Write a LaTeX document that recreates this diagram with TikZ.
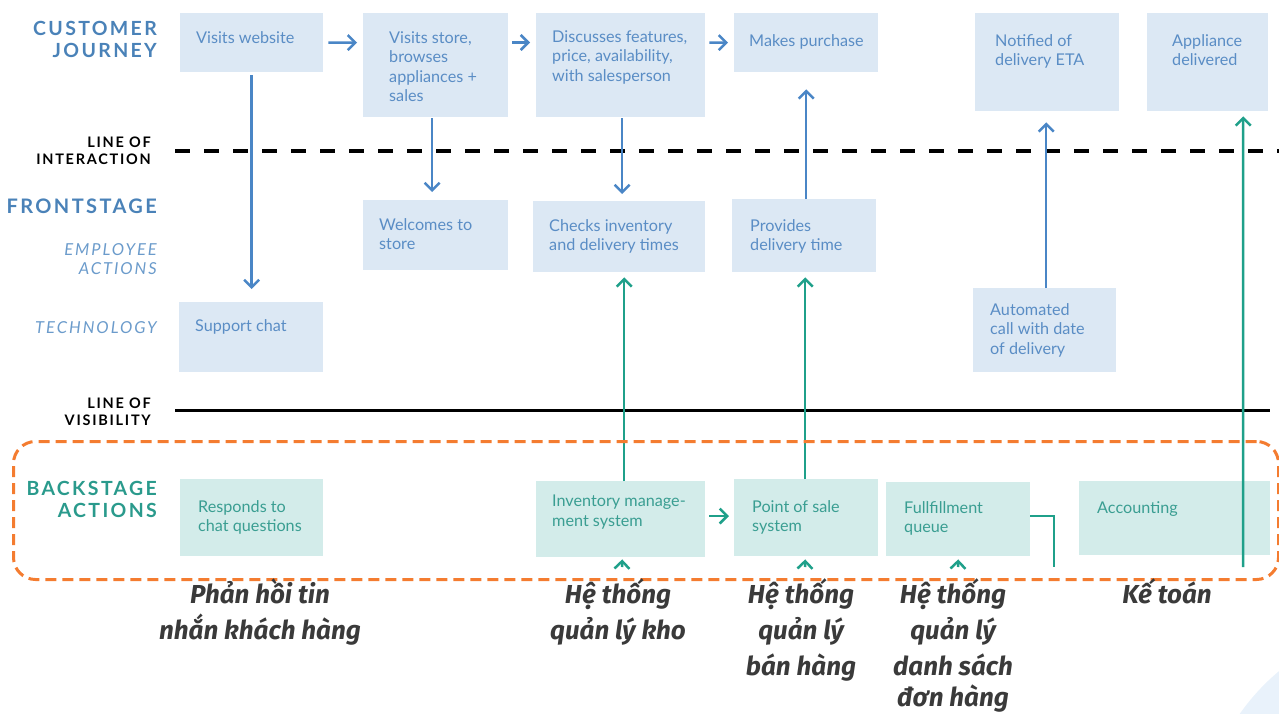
\documentclass[tikz,border=0pt]{standalone}
\usepackage{fontspec}
\setmainfont{Lato}
\newfontfamily\lbl[LetterSpace=12]{Lato}
\newfontfamily\viet{Fira Sans}
\usetikzlibrary{arrows.meta}
\definecolor{boxblue}{HTML}{DCE8F4}
\definecolor{boxteal}{HTML}{D3ECEA}
\definecolor{txtblue}{HTML}{5A8DC5}
\definecolor{txtteal}{HTML}{3A9E92}
\definecolor{arrblue}{HTML}{4A86C6}
\definecolor{arrteal}{HTML}{1FA08A}
\definecolor{hdblue}{HTML}{4A82B8}
\definecolor{itblue}{HTML}{6B9BCB}
\definecolor{hdteal}{HTML}{2A9A8C}
\definecolor{orng}{HTML}{F47C30}
\definecolor{vtgray}{HTML}{3A3A3A}
\definecolor{bgc}{HTML}{E9F2FB}
\begin{document}
\begin{tikzpicture}[x=1pt,y=-1pt,
  bbox/.style={fill=boxblue,draw=none,anchor=north west,inner sep=0pt},
  tbox/.style={fill=boxteal,draw=none,anchor=north west,inner sep=0pt},
  btxt/.style={anchor=north west,inner sep=0pt,align=left,text=txtblue,font=\fontsize{16.2}{19.5}\selectfont},
  ttxt/.style={anchor=north west,inner sep=0pt,align=left,text=txtteal,font=\fontsize{16.2}{19.5}\selectfont},
  barrow/.style={draw=arrblue,line width=2.5pt,-{Straight Barb[length=7.5pt,width=15pt,line width=2.5pt]}},
  garrow/.style={draw=arrteal,line width=2.5pt,-{Straight Barb[length=7.5pt,width=15pt,line width=2.5pt]}},
  gline/.style={draw=arrteal,line width=2.5pt},
  hdlbl/.style={anchor=east,inner sep=0pt,align=right},
  vt/.style={anchor=base,inner sep=0pt,text=vtgray,font=\viet\bfseries\itshape\fontsize{26}{36}\selectfont}
]
\useasboundingbox (0,0) rectangle (1279,713);
\clip (0,0) rectangle (1279,713);
\fill[bgc] (1420,840) circle (220);

% lines
\coordinate (loiL) at (175,151);
\coordinate (loiR) at (1279,151);
\coordinate (lovL) at (175,410);
\coordinate (lovR) at (1270,410);
\draw[line width=4pt,dash pattern=on 15pt off 14pt] (loiL) -- (loiR);
\draw[line width=3pt] (lovL) -- (lovR);

% top row boxes
\node[bbox,minimum width=143pt,minimum height=59pt] (vw) at (180,13) {};
\node[bbox,minimum width=145pt,minimum height=104pt] (vs) at (363,13) {};
\node[bbox,minimum width=169pt,minimum height=104pt] (dis) at (536,13) {};
\node[bbox,minimum width=144pt,minimum height=59pt] (mp) at (734,13) {};
\node[bbox,minimum width=144pt,minimum height=98pt] (nde) at (975,13) {};
\node[bbox,minimum width=121pt,minimum height=98pt] (ad) at (1147,13) {};
% middle
\node[bbox,minimum width=145pt,minimum height=70pt] (wel) at (363,200) {};
\node[bbox,minimum width=172pt,minimum height=71pt] (chk) at (533,201) {};
\node[bbox,minimum width=144pt,minimum height=73pt] (pdt) at (732,199) {};
\node[bbox,minimum width=144pt,minimum height=70pt] (sc) at (179,302) {};
\node[bbox,minimum width=143pt,minimum height=84pt] (ac) at (973,288) {};
% backstage
\node[tbox,minimum width=143pt,minimum height=77pt] (rcq) at (180,479) {};
\node[tbox,minimum width=169pt,minimum height=76pt] (ims) at (536,481) {};
\node[tbox,minimum width=144pt,minimum height=77pt] (pos) at (734,479) {};
\node[tbox,minimum width=144pt,minimum height=74pt] (fq) at (886,482) {};
\node[tbox,minimum width=191pt,minimum height=74pt] (acc) at (1079,481) {};

% box texts
\node[btxt] (vwt) at (196,31) {Visits website};
\node[btxt] (vst) at (389,31) {Visits store,\\browses\\appliances +\\sales};
\node[btxt] (dist) at (552,30) {Discusses features,\\price, availability,\\with salesperson};
\node[btxt] (mpt) at (749,34) {Makes purchase};
\node[btxt] (ndet) at (995,34) {Notified of\\delivery ETA};
\node[btxt] (adt) at (1172,34) {Appliance\\delivered};
\node[btxt] (welt) at (379,218) {Welcomes to\\store};
\node[btxt] (chkt) at (549,219) {Checks inventory\\and delivery times};
\node[btxt] (pdtt) at (750,219) {Provides\\delivery time};
\node[btxt] (sct) at (195,319) {Support chat};
\node[btxt] (act) at (990,303) {Automated\\call with date\\of delivery};
\node[ttxt] (rcqt) at (198,500) {Responds to\\chat questions};
\node[ttxt] (imst) at (552,495) {Inventory manage-\\ment system};
\node[ttxt] (post) at (752,500) {Point of sale\\system};
\node[ttxt] (fqt) at (904,501) {Fullfillment\\queue};
\node[ttxt] (acct) at (1097,501) {Accounting};

% blue arrows
\draw[barrow] ([shift={(5,0)}]vw.east) -- ([shift={(-6,29.5)}]vs.north west);
\draw[barrow] ([shift={(4,29.5)}]vs.north east) -- ([shift={(-6,29.5)}]dis.north west);
\draw[barrow] ([shift={(4,29.5)}]dis.north east) -- ([shift={(-6,0)}]mp.west);
\draw[barrow] ([shift={(0,3)}]vw.south) -- ([shift={(0.5,-13)}]sc.north);
\draw[barrow] ([shift={(-3.5,1)}]vs.south) -- ([shift={(-3.5,-8)}]wel.north);
\draw[barrow] ([shift={(1.5,1)}]dis.south) -- ([shift={(3,-7)}]chk.north);
\draw[barrow] ([shift={(2,0)}]pdt.north) -- ([shift={(0,17)}]mp.south);
\draw[barrow] ([shift={(1.5,0)}]ac.north) -- ([shift={(-1,11)}]nde.south);

% teal arrows
\coordinate (adbot) at (1243,567);
\coordinate (fqbot) at (1054,567);
\coordinate (imsb) at (622,567);
\coordinate (posb) at (805,567);
\coordinate (fqb) at (958,567);
\draw[garrow] ([shift={(3.5,0)}]ims.north) -- ([shift={(5,5)}]chk.south);
\draw[garrow] ([shift={(-1,0)}]pos.north) -- ([shift={(1,5)}]pdt.south);
\draw[garrow] ([shift={(4,35)}]ims.north east) -- ([shift={(-5,37)}]pos.north west);
\draw[garrow] (adbot) -- ([shift={(35.5,5)}]ad.south);
\draw[gline] ([shift={(0,34)}]fq.north east) -| (fqbot);
\draw[garrow] (imsb) -- ([shift={(1.5,2)}]ims.south);
\draw[garrow] (posb) -- ([shift={(-1,3)}]pos.south);
\draw[garrow] (fqb) -- ([shift={(0,3)}]fq.south);

% backstage frame
\node[draw=orng,line width=3pt,dash pattern=on 11pt off 6pt,rounded corners=22pt,
  minimum width=1265pt,minimum height=138pt,anchor=north west,inner sep=0pt] (frame) at (12,440) {};

% left headers
\node[hdlbl,text=hdblue,font=\lbl\bfseries\fontsize{19.5}{22}\selectfont] (hcj) at (157,39) {CUSTOMER\\JOURNEY};
\node[hdlbl,text=black,font=\lbl\bfseries\fontsize{14.5}{17}\selectfont] (hloi) at (151,150.5) {LINE OF\\INTERACTION};
\node[hdlbl,text=hdblue,font=\lbl\bfseries\fontsize{20}{22}\selectfont] (hfs) at (157,206) {FRONTSTAGE};
\node[hdlbl,text=itblue,font=\lbl\itshape\fontsize{16.5}{19}\selectfont] (hea) at (157,259.5) {EMPLOYEE\\ACTIONS};
\node[hdlbl,text=itblue,font=\lbl\itshape\fontsize{16.5}{19}\selectfont] (htech) at (157,328) {TECHNOLOGY};
\node[hdlbl,text=black,font=\lbl\bfseries\fontsize{14.5}{17}\selectfont] (hlov) at (151,411.5) {LINE OF\\VISIBILITY};
\node[hdlbl,text=hdteal,font=\lbl\bfseries\fontsize{19.5}{22}\selectfont] (hbs) at (157,499) {BACKSTAGE\\ACTIONS};

% Vietnamese labels
\node[vt] (v1a) at (260,603) {Phản hồi tin};
\node[vt] (v1b) at (260,639) {nhắn khách hàng};
\node[vt] (v2a) at (618,603) {Hệ thống};
\node[vt] (v2b) at (618,639) {quản lý kho};
\node[vt] (v3a) at (801,603) {Hệ thống};
\node[vt] (v3b) at (801,639) {quản lý};
\node[vt] (v3c) at (801,675) {bán hàng};
\node[vt] (v4a) at (953,603) {Hệ thống};
\node[vt] (v4b) at (953,639) {quản lý};
\node[vt] (v4c) at (953,675) {danh sách};
\node[vt] (v4d) at (953,706) {đơn hàng};
\node[vt] (v5a) at (1167,603) {Kế toán};
\end{tikzpicture}
\end{document}
